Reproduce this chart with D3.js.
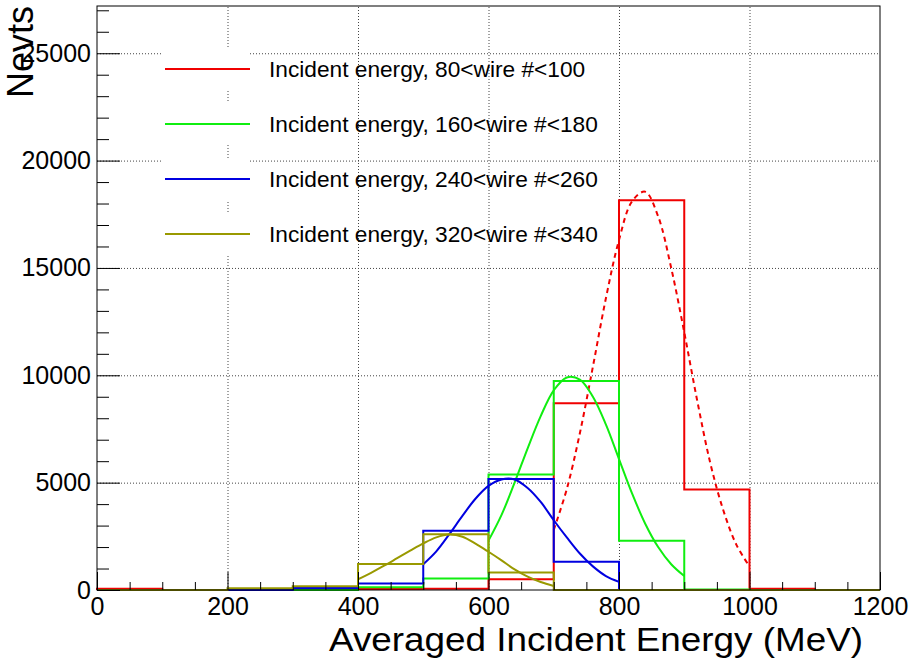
<!DOCTYPE html>
<meta charset="utf-8">
<script src="https://d3js.org/d3.v7.min.js"></script>
<style>
  body { margin: 0; background: #fff; }
  text { font-family: "Liberation Sans", Arial, Helvetica, sans-serif; }
</style>
<div id="my_dataviz"></div>
<script>
// histogram bins (lower edges, MeV), each bin is 100 MeV wide
var binLow = [0, 100, 200, 300, 400, 500, 600, 700, 800, 900, 1000, 1100];
var binWidth = 100;

// bin contents
var redHist   = [60, 0, 0, 40, 50, 60, 500, 8700, 18150, 4680, 60, 0];
var greenHist = [0, 0, 0, 0, 130, 530, 5380, 9740, 2290, 20, 0, 0];
var blueHist  = [0, 0, 0, 90, 300, 2760, 5170, 1310, 0, 0, 0, 0];
var oliveHist = [0, 0, 80, 180, 1210, 2600, 810, 0, 0, 0, 0, 0];

// fit curves
var redFitX   = [700, 720, 740, 760, 780, 800, 820, 840, 860, 880, 900, 920, 940, 960, 980, 1000];
var redFitY   = [2800, 4700, 7300, 10400, 13600, 16300, 18100, 18550, 17400, 15000, 12000, 8800, 5900, 3700, 2100, 1100];
var greenFitX = [600, 620, 640, 660, 680, 700, 720, 740, 760, 780, 800, 820, 840, 860, 880, 900];
var greenFitY = [2300, 3500, 5000, 6600, 8100, 9300, 9900, 9800, 9000, 7700, 6100, 4500, 3100, 2000, 1200, 650];
var blueFitX  = [500, 520, 540, 560, 580, 600, 620, 640, 660, 680, 700, 720, 740, 760, 780, 800];
var blueFitY  = [1200, 1800, 2600, 3450, 4250, 4850, 5150, 5150, 4750, 4100, 3250, 2450, 1700, 1100, 650, 380];
var oliveFitX = [400, 420, 440, 460, 480, 500, 520, 540, 560, 580, 600, 620, 640, 660, 680, 700];
var oliveFitY = [500, 800, 1130, 1480, 1830, 2170, 2450, 2580, 2480, 2160, 1780, 1380, 960, 620, 370, 185];

var legendLabels = [
  "Incident energy, 80<wire #<100",
  "Incident energy, 160<wire #<180",
  "Incident energy, 240<wire #<260",
  "Incident energy, 320<wire #<340"
];

var xMajor = [0, 200, 400, 600, 800, 1000, 1200];
var xMinor = [50, 100, 150, 250, 300, 350, 450, 500, 550, 650, 700, 750, 850, 900, 950, 1050, 1100, 1150];
var yMajor = [0, 5000, 10000, 15000, 20000, 25000];
var yMinor = [1000, 2000, 3000, 4000, 6000, 7000, 8000, 9000, 11000, 12000, 13000, 14000,
              16000, 17000, 18000, 19000, 21000, 22000, 23000, 24000, 26000, 27000];

var colors = ["#f00000", "#10ee10", "#0000e0", "#999900"];

var margin = {top: 6, right: 32, bottom: 76, left: 97},
    width = 912 - margin.left - margin.right,
    height = 666 - margin.top - margin.bottom;

var svg = d3.select("#my_dataviz")
  .append("svg")
    .attr("width", 912)
    .attr("height", 666)
  .append("g")
    .attr("transform", "translate(" + margin.left + "," + margin.top + ")");

var x = d3.scaleLinear().domain([0, 1200]).range([0, width]);
var y = d3.scaleLinear().domain([0, 27200]).range([height, 0]);

// grid
svg.append("g")
    .attr("transform", "translate(0," + height + ")")
    .call(d3.axisBottom(x).tickValues([200, 400, 600, 800, 1000]).tickSize(-height).tickFormat(""))
    .call(function(g) { g.select(".domain").remove(); })
    .selectAll("line")
    .attr("stroke", "#444")
    .attr("stroke-dasharray", "1,2");
svg.append("g")
    .call(d3.axisLeft(y).tickValues([5000, 10000, 15000, 20000, 25000]).tickSize(-width).tickFormat(""))
    .call(function(g) { g.select(".domain").remove(); })
    .selectAll("line")
    .attr("stroke", "#444")
    .attr("stroke-dasharray", "1,2");

// histograms + fits, drawn in the order root drew them
var hists = [redHist, greenHist, blueHist, oliveHist];
var fits = [[redFitX, redFitY], [greenFitX, greenFitY], [blueFitX, blueFitY], [oliveFitX, oliveFitY]];

var histLine = d3.line()
    .x(function(d) { return x(d[0]); })
    .y(function(d) { return y(d[1]); });
var fitLine = d3.line()
    .x(function(d) { return x(d[0]); })
    .y(function(d) { return y(d[1]); })
    .curve(d3.curveCatmullRom);

hists.forEach(function(h, i) {
  var pts = [[binLow[0], 0]];
  h.forEach(function(v, j) {
    pts.push([binLow[j], v]);
    pts.push([binLow[j] + binWidth, v]);
  });
  pts.push([binLow[binLow.length - 1] + binWidth, 0]);
  svg.append("path")
      .attr("d", histLine(pts))
      .attr("fill", "none")
      .attr("stroke", colors[i])
      .attr("stroke-width", 2);

  var f = fits[i][0].map(function(xv, k) { return [xv, fits[i][1][k]]; });
  svg.append("path")
      .attr("d", fitLine(f))
      .attr("fill", "none")
      .attr("stroke", colors[i])
      .attr("stroke-width", 2)
      .attr("stroke-dasharray", i == 0 ? "5,4" : null);
});

// frame
svg.append("rect")
    .attr("width", width)
    .attr("height", height)
    .attr("fill", "none")
    .attr("stroke", "#000")
    .attr("stroke-width", 1);

// x axis, ticks point inward
var xAx = svg.append("g")
    .attr("transform", "translate(0," + height + ")")
    .call(d3.axisBottom(x).tickValues(xMajor).tickSize(-18).tickPadding(7).tickFormat(d3.format("d")));
xAx.select(".domain").remove();
xAx.selectAll("text").style("font-size", "25px").attr("fill", "#000");
svg.append("g")
    .attr("transform", "translate(0," + height + ")")
    .call(d3.axisBottom(x).tickValues(xMinor).tickSize(-8).tickFormat(""))
    .select(".domain").remove();

// y axis
var yAx = svg.append("g")
    .call(d3.axisLeft(y).tickValues(yMajor).tickSize(-23).tickPadding(6).tickFormat(d3.format("d")));
yAx.select(".domain").remove();
yAx.selectAll("text").style("font-size", "25px").attr("fill", "#000");
svg.append("g")
    .call(d3.axisLeft(y).tickSize(-12).tickValues(yMinor).tickFormat(""))
    .select(".domain").remove();

// axis titles (root stretches it a bit wider than the plain font)
svg.append("text")
    .attr("x", width - 17)
    .attr("y", height + 61)
    .attr("text-anchor", "end")
    .attr("textLength", 534)
    .attr("lengthAdjust", "spacingAndGlyphs")
    .style("font-size", "34px")
    .text("Averaged Incident Energy (MeV)");

svg.append("text")
    .attr("transform", "translate(" + (33 - margin.left) + ",0) rotate(-90)")
    .attr("text-anchor", "end")
    .style("font-size", "36px")
    .text("Nevts");

// legend
var legend = svg.append("g")
    .attr("transform", "translate(" + (163 - margin.left) + "," + (69 - margin.top) + ")");
legendLabels.forEach(function(lab, i) {
  var row = legend.append("g").attr("transform", "translate(0," + (i * 55) + ")");
  row.append("rect")
      .attr("x", 0).attr("y", -21)
      .attr("width", 87).attr("height", 42)
      .attr("fill", "#fff");
  row.append("line")
      .attr("x1", 2).attr("x2", 87)
      .attr("stroke", colors[i])
      .attr("stroke-width", 2);
  row.append("text")
      .attr("x", 106)
      .attr("y", 8)
      .style("font-size", "22.7px")
      .text(lab);
});
</script>
